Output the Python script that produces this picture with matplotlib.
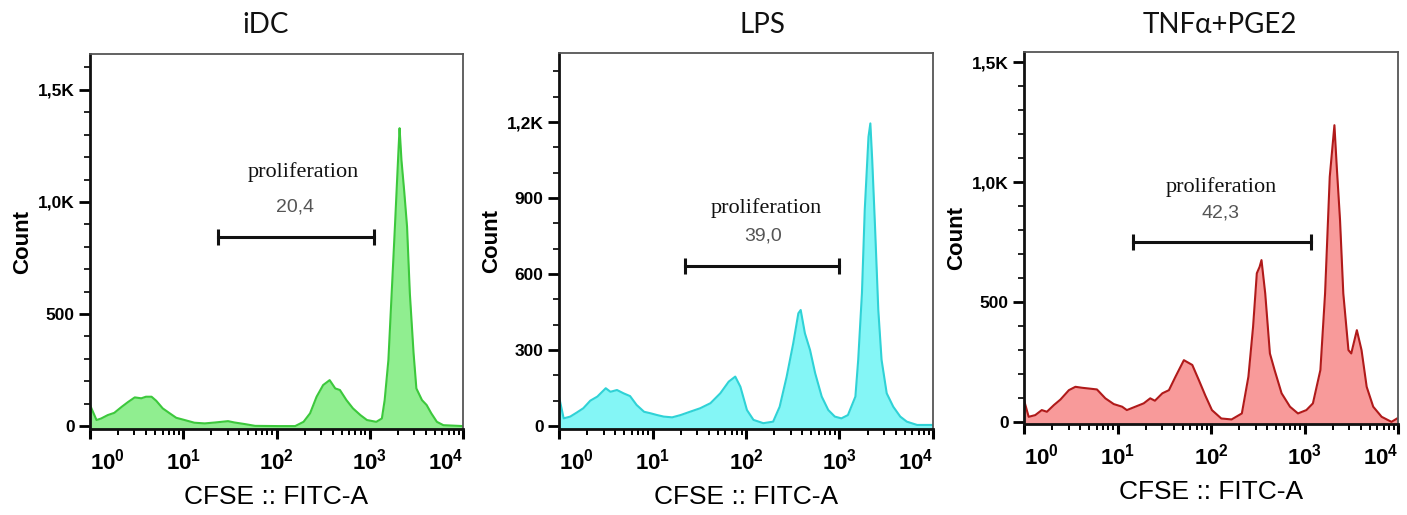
import matplotlib
matplotlib.use("Agg")
import matplotlib.pyplot as plt
import numpy as np
from matplotlib.ticker import FixedLocator, LogLocator, NullFormatter

plt.rcParams['font.family'] = ['Liberation Sans', 'DejaVu Sans']
plt.rcParams['mathtext.fontset'] = 'custom'
plt.rcParams['mathtext.rm'] = 'Liberation Sans'
plt.rcParams['mathtext.bf'] = 'Liberation Sans:bold'

# ---- data (x as log10 of CFSE intensity, y as count) ----
titles = ["iDC", "LPS", "TNF\u03b1+PGE2"]
gate_values = ["20,4", "39,0", "42,3"]

idc_dec = [0.00, 0.07, 0.12, 0.19, 0.26, 0.34, 0.41, 0.48, 0.55, 0.60, 0.66, 0.71,
           0.78, 0.855, 0.925, 1.015, 1.12, 1.23, 1.34, 1.48, 1.55, 1.66, 1.77, 2.02,
           2.20, 2.29, 2.36, 2.43, 2.50, 2.57, 2.63, 2.68, 2.75, 2.82, 2.90, 2.97,
           3.07, 3.13, 3.16, 3.20, 3.235, 3.27, 3.31, 3.32, 3.34, 3.37, 3.40, 3.43,
           3.47, 3.50, 3.56, 3.61, 3.66, 3.72, 3.79, 4.00]
idc_cnt = [94, 27, 34, 49, 59, 86, 108, 128, 124, 131, 131, 113,
           79, 57, 37, 27, 15, 12, 16, 22, 16, 9, 1, 0,
           0, 19, 57, 131, 183, 205, 168, 161, 116, 79, 49, 27,
           19, 34, 116, 295, 592, 890, 1247, 1329, 1187, 1046, 890, 592,
           325, 168, 116, 94, 57, 19, 4, 0]

lps_dec = [0.00, 0.05, 0.12, 0.19, 0.26, 0.335, 0.41, 0.50, 0.55, 0.62, 0.69, 0.76,
           0.83, 0.91, 0.98, 1.05, 1.12, 1.21, 1.30, 1.40, 1.51, 1.62, 1.725, 1.815,
           1.885, 1.94, 2.01, 2.08, 2.185, 2.29, 2.36, 2.435, 2.505, 2.56, 2.585, 2.63,
           2.685, 2.74, 2.81, 2.88, 2.95, 3.02, 3.09, 3.17, 3.20, 3.24, 3.27, 3.31,
           3.33, 3.35, 3.38, 3.415, 3.45, 3.505, 3.575, 3.65, 3.72, 3.83, 4.00]
lps_cnt = [116, 30, 37, 53, 70, 100, 116, 149, 135, 142, 129, 118,
           83, 56, 50, 43, 37, 34, 43, 56, 70, 90, 129, 175,
           195, 155, 63, 24, 11, 17, 76, 195, 326, 445, 458, 366,
           300, 208, 116, 63, 37, 30, 43, 116, 261, 524, 853, 1142,
           1195, 1050, 787, 458, 261, 129, 76, 37, 17, 4, 4]

tnf_dec = [0.00, 0.05, 0.12, 0.19, 0.245, 0.32, 0.39, 0.48, 0.55, 0.62, 0.69, 0.78,
           0.87, 0.96, 1.05, 1.10, 1.19, 1.28, 1.35, 1.40, 1.48, 1.55, 1.62, 1.71,
           1.80, 1.87, 1.94, 2.01, 2.11, 2.22, 2.33, 2.40, 2.45, 2.49, 2.52, 2.54,
           2.58, 2.63, 2.68, 2.755, 2.845, 2.93, 3.02, 3.09, 3.17, 3.22, 3.27, 3.32,
           3.345, 3.38, 3.415, 3.47, 3.50, 3.56, 3.61, 3.665, 3.735, 3.825, 3.93, 3.99]
tnf_cnt = [92, 22, 29, 50, 43, 71, 94, 133, 147, 143, 140, 136,
           99, 75, 64, 50, 64, 78, 99, 89, 120, 133, 189, 258,
           238, 175, 110, 50, 15, 11, 36, 189, 397, 620, 647, 675,
           536, 286, 217, 120, 64, 36, 50, 78, 217, 536, 1022, 1237,
           1064, 842, 536, 300, 286, 383, 300, 147, 64, 22, 1, 15]

gate_lo = [23.8, 22, 14.7]
gate_hi = [1100, 1000, 1175]
gate_y = [845, 632, 750]
label_pos = [(192, 1133), (164, 861), (128, 980)]
value_pos = [(158, 977), (152, 750), (125, 871)]

y_major = [[0, 500, 1000, 1500], [0, 300, 600, 900, 1200], [0, 500, 1000, 1500]]
y_labels = [["0", "500", "1,0K", "1,5K"], ["0", "300", "600", "900", "1,2K"],
            ["0", "500", "1,0K", "1,5K"]]
y_minor_top = [1600, 1400, 1500]
y_lims = [(-13, 1660), (-12, 1473), (-8, 1542)]

fill_colors = ["#90ee90", "#84f6f6", "#f89a9a"]
line_colors = ["#3cc83c", "#2fd2d6", "#b01a1a"]

# axes boxes in pixels: left, top, right, bottom
boxes = [(90, 54, 463, 429), (559, 53, 933, 429), (1024, 52, 1398, 424)]
title_x = [266, 762, 1220]

W, H = 1407, 515
fig = plt.figure(figsize=(W / 100, H / 100), dpi=100)

curves = [(idc_dec, idc_cnt), (lps_dec, lps_cnt), (tnf_dec, tnf_cnt)]

for i in range(3):
    l, t, r, b = boxes[i]
    ax = fig.add_axes([l / W, 1 - b / H, (r - l) / W, (b - t) / H])
    dec, cnt = curves[i]
    x = 10 ** np.array(dec)
    y = np.array(cnt)
    ax.fill_between(x, y, -100, color=fill_colors[i], lw=0)
    ax.plot(x, y, color=line_colors[i], lw=1.5)

    ax.set_xscale("log")
    ax.set_xlim(1, 10000)
    ax.set_ylim(*y_lims[i])

    ax.set_xticks([1, 10, 100, 1000, 10000])
    ax.set_xticklabels([r"$\mathbf{10^{%d}}$" % k for k in range(5)], fontsize=16)
    ax.xaxis.set_minor_locator(LogLocator(base=10, subs=np.arange(2, 10), numticks=20))
    ax.xaxis.set_minor_formatter(NullFormatter())
    tl = ax.get_xticklabels()
    tl[0].set_ha("left")
    tl[-1].set_ha("right")

    ax.set_yticks(y_major[i])
    ax.set_yticklabels(y_labels[i], fontsize=12.5, fontweight="bold")
    ax.yaxis.set_minor_locator(FixedLocator(np.arange(0, y_minor_top[i] + 1, 100)))

    ax.tick_params(axis="x", which="major", length=7, width=2.2, pad=7, direction="out")
    ax.tick_params(axis="x", which="minor", length=4, width=1.4, direction="out")
    ax.tick_params(axis="y", which="major", length=8, width=2.0, pad=3, direction="out")
    ax.tick_params(axis="y", which="minor", length=4, width=1.2, direction="out")

    for side in ["left", "bottom"]:
        ax.spines[side].set_linewidth(2.0)
        ax.spines[side].set_color("#111111")
    for side in ["top", "right"]:
        ax.spines[side].set_linewidth(1.3)
        ax.spines[side].set_color("#555555")

    ax.set_ylabel("Count", fontsize=16, fontweight="bold")
    ax.yaxis.set_label_coords(-57 / (r - l), 0.5)
    ax.set_xlabel("CFSE :: FITC-A", fontsize=19)
    ax.xaxis.set_label_coords(0.5, -68 / (b - t))
    ax.xaxis.label.set_va("center")

    # gate marker
    ax.plot([gate_lo[i], gate_hi[i]], [gate_y[i], gate_y[i]], color="#111111", lw=2.2,
            marker="|", ms=12, mew=2.2)
    ax.text(label_pos[i][0], label_pos[i][1], "proliferation", family="Liberation Serif",
            fontsize=16, ha="center", va="center", color="#111111")
    ax.text(value_pos[i][0], value_pos[i][1], gate_values[i], fontsize=14,
            ha="center", va="center", color="#555555")

    fig.text(title_x[i] / W, 1 - 33 / H, titles[i], family=["Lato", "DejaVu Sans"],
             fontsize=20, ha="center", va="baseline", color="#111111")

fig.savefig("out.png", dpi=100)
